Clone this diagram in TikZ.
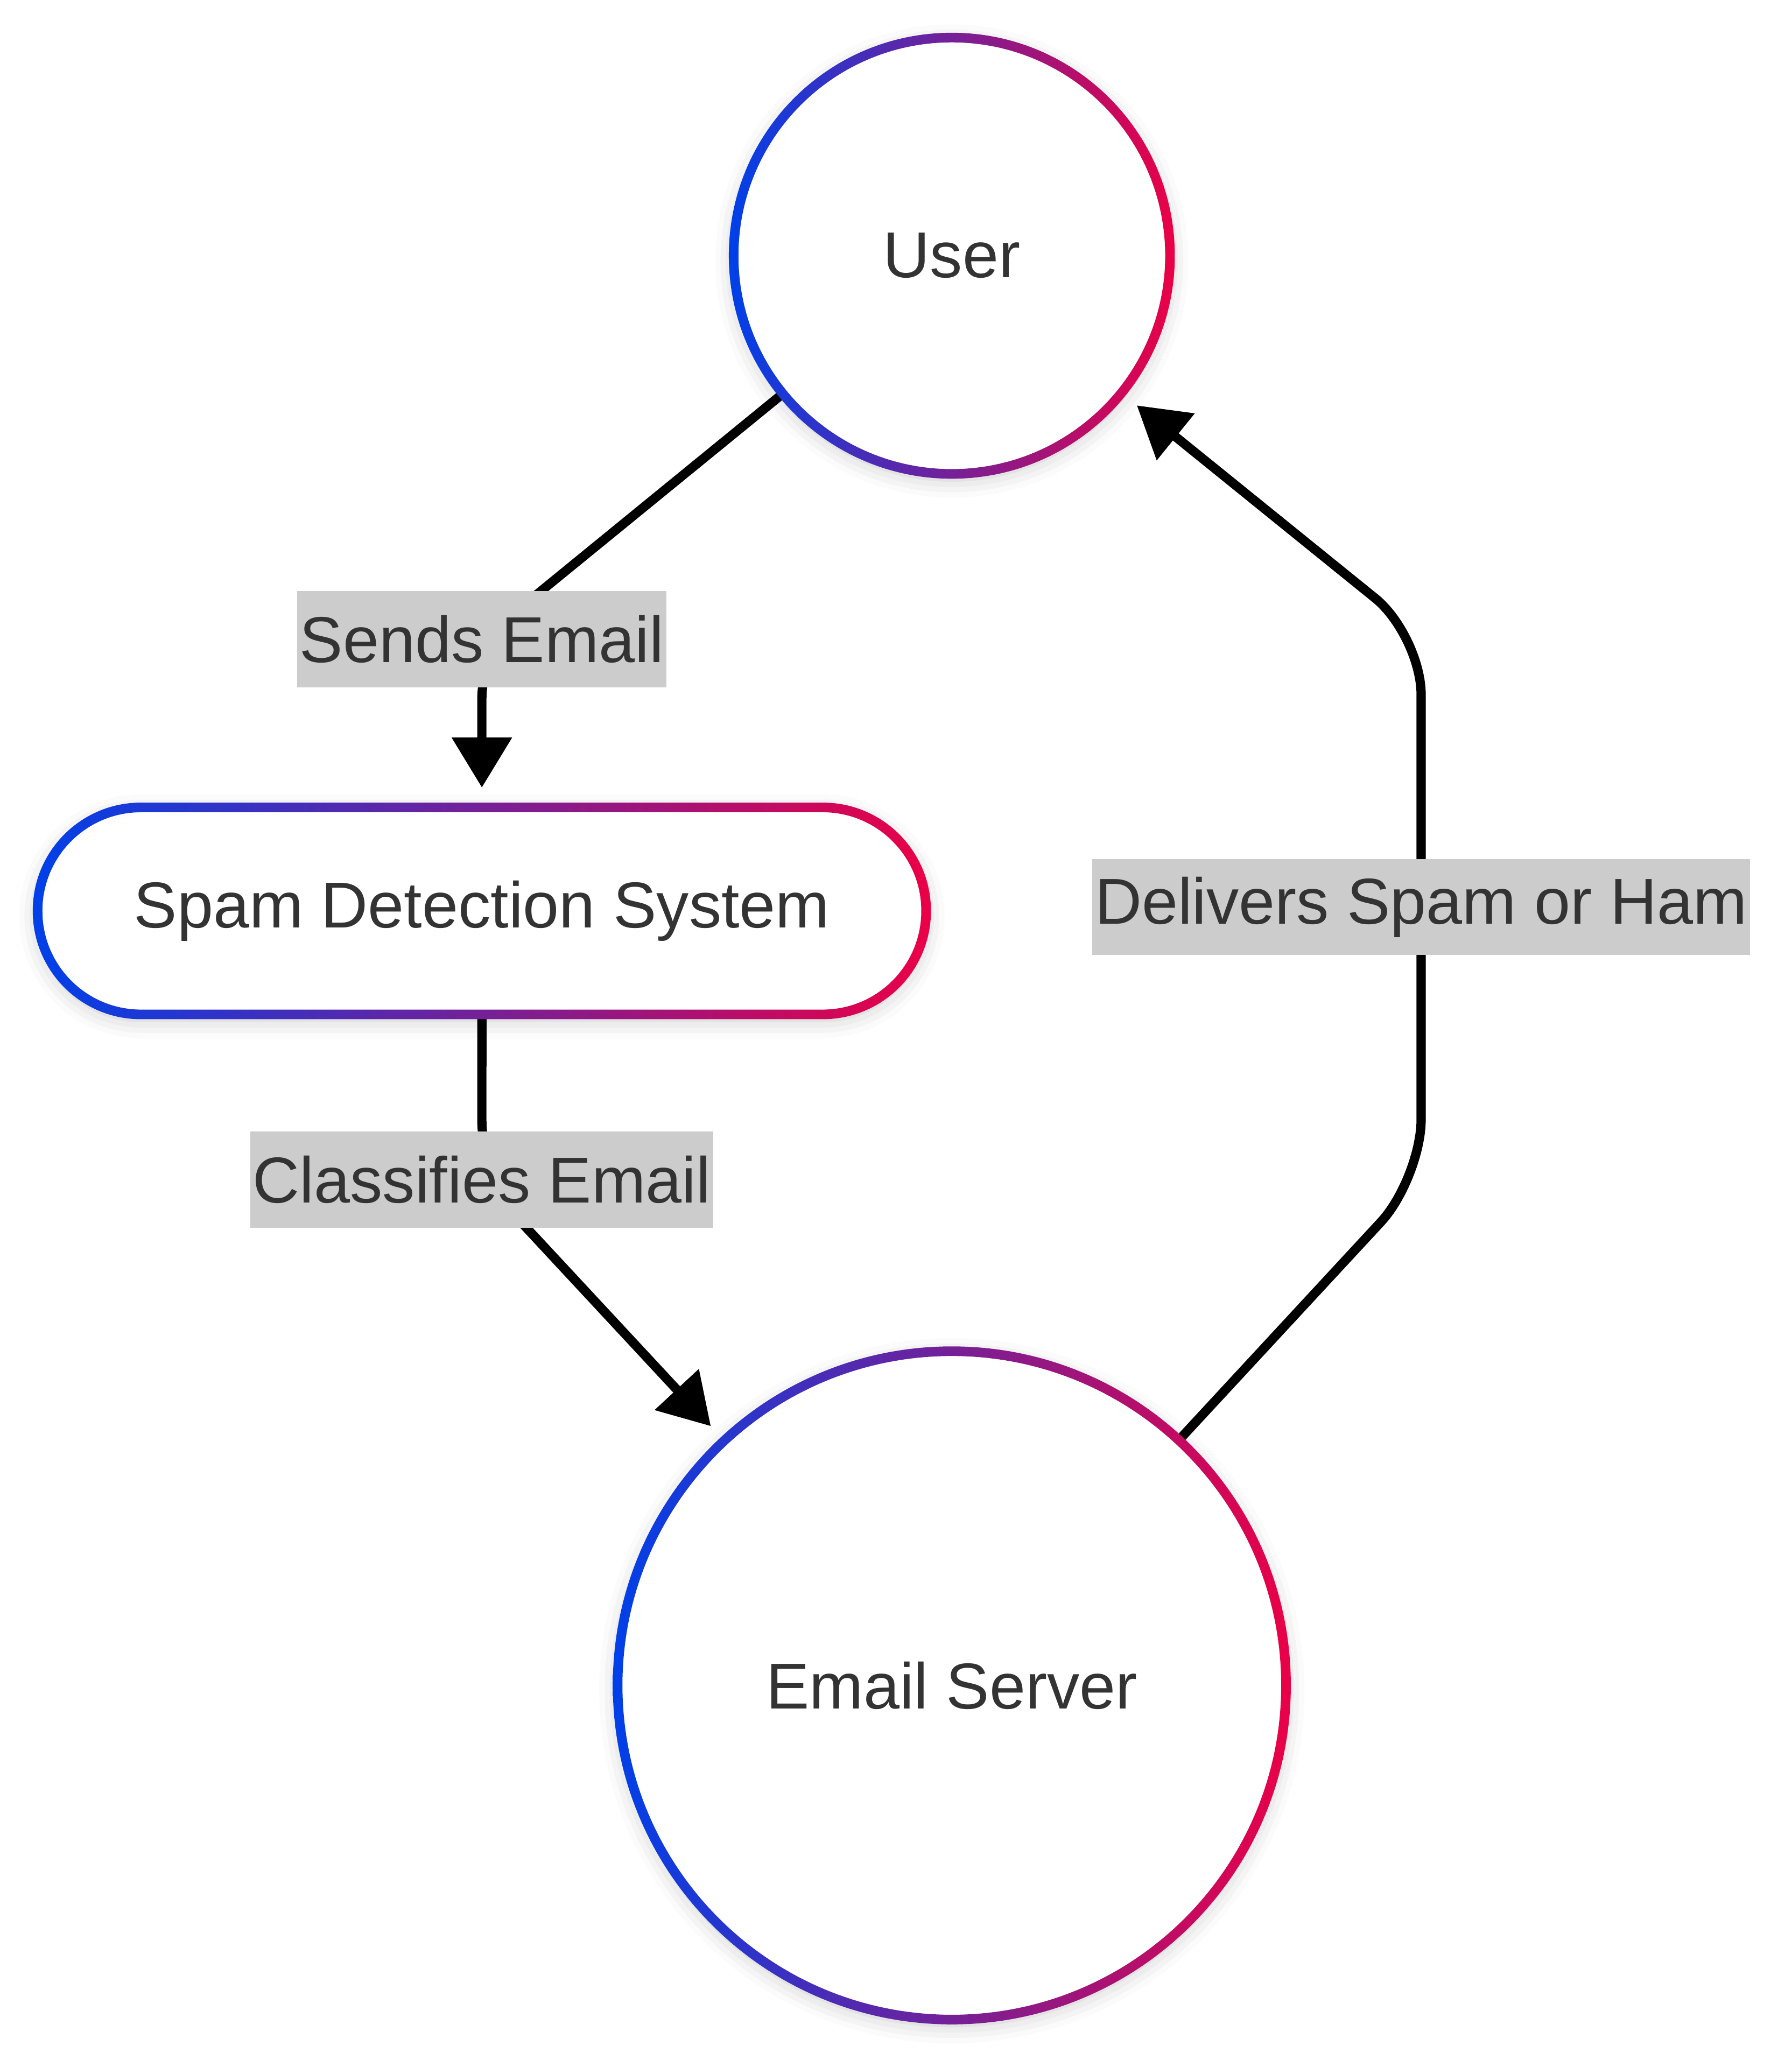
\documentclass[tikz,border=0pt]{standalone}
\usepackage{fontspec}
\setmainfont{Liberation Sans}
\usetikzlibrary{arrows.meta,positioning,shapes.misc,shadows.blur}

\definecolor{cblue}{RGB}{0,64,233}
\definecolor{cred}{RGB}{234,0,70}
\definecolor{lblgray}{RGB}{204,204,204}
\definecolor{txtgray}{RGB}{51,51,51}

\begin{document}
\begin{tikzpicture}[on grid,
    font=\fontsize{14pt}{17pt}\selectfont, text=txtgray,
    nodebox/.style={fill=white,inner sep=0pt,outer sep=0pt,
      blur shadow={shadow xshift=0pt,shadow yshift=-0.04cm,shadow blur radius=0.14cm,shadow opacity=22}},
    gradring/.style={left color=cblue,right color=cred,even odd rule},
    lbl/.style={fill=lblgray,sharp corners,inner xsep=0.02cm,inner ysep=0pt,minimum height=0.73cm},
    flow/.style={draw=black,line width=0.07cm,rounded corners=0.45cm,shorten >=0.15cm,
      -{Triangle[length=0.38cm,width=0.44cm]}}]
   \useasboundingbox (0,0) rectangle (13.59,-15.68);

   \node[nodebox,circle,minimum size=3.31cm] (user) at (7.22,-1.94) {User};
   \node[nodebox,rounded rectangle,minimum width=6.74cm,minimum height=1.57cm] (spam) [below left=4.97cm and 3.565cm of user] {Spam Detection System};
   \node[nodebox,circle,minimum size=5.07cm] (server) [below=10.845cm of user] {Email Server};

   \draw[flow] (user) -- (3.655,-4.85) node[lbl] {Sends Email} -- (spam);
   \draw[flow] (spam) -- (3.655,-8.95) node[lbl] {Classifies Email} -- (server);
   \draw[flow] (server) -- (10.78,-8.94) -- node[lbl] {Delivers Spam or Ham} (10.78,-4.82) -- (user);

   % gradient outlines
   \shade[gradring] (user.center) circle[radius=1.6915cm] circle[radius=1.6185cm];
   \shade[gradring] (server.center) circle[radius=2.5715cm] circle[radius=2.4985cm];
   \shade[gradring] {[rounded corners=0.82cm] (spam.center) ++(-3.4065,-0.8215) rectangle ++(6.813,1.643)}
      {[rounded corners=0.748cm] (spam.center) ++(-3.3335,-0.7485) rectangle ++(6.667,1.497)};
\end{tikzpicture}
\end{document}
